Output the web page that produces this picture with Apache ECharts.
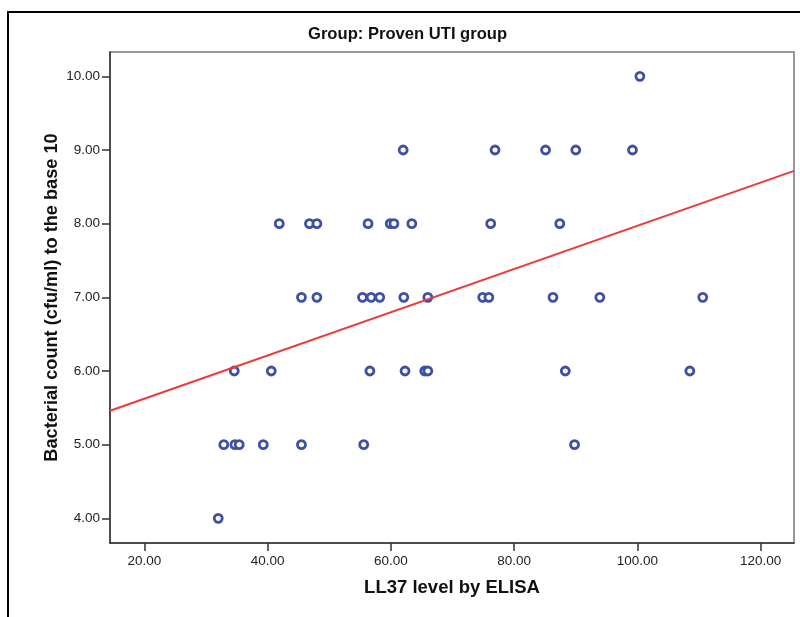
<!DOCTYPE html>
<html>
<head>
<meta charset="utf-8">
<script src="https://cdn.jsdelivr.net/npm/echarts@6/dist/echarts.min.js"></script>
<style>
html,body{margin:0;padding:0;background:#fff;}
#chart{width:800px;height:617px;}
</style>
</head>
<body>
<div id="chart"></div>
<script>
// ---- Data ----
var ll37Level = [
  100.4,
  62.0, 76.9, 85.1, 90.0, 99.2,
  41.9, 46.8, 48.0, 56.3, 59.9, 60.5, 63.4, 76.2, 87.4,
  45.5, 48.0, 55.4, 56.8, 58.2, 62.1, 66.0, 74.9, 75.9, 86.3, 93.9, 110.6,
  34.6, 40.6, 56.6, 62.3, 65.5, 66.0, 88.3, 108.5,
  32.9, 34.7, 35.4, 39.3, 45.5, 55.6, 89.8,
  32.0
];
var bacterialCount = [
  10,
  9, 9, 9, 9, 9,
  8, 8, 8, 8, 8, 8, 8, 8, 8,
  7, 7, 7, 7, 7, 7, 7, 7, 7, 7, 7, 7,
  6, 6, 6, 6, 6, 6, 6, 6,
  5, 5, 5, 5, 5, 5, 5,
  4
];
var xTickValues = [20, 40, 60, 80, 100, 120];
var yTickValues = [4, 5, 6, 7, 8, 9, 10];
var titleText = 'Group: Proven UTI group';
var xAxisTitle = 'LL37 level by ELISA';
var yAxisTitle = 'Bacterial count (cfu/ml) to the base 10';

// ---- Build ----
var points = ll37Level.map(function (x, i) { return [x, bacterialCount[i]]; });

// least-squares fit line
var n = points.length, sx = 0, sy = 0, sxx = 0, sxy = 0;
points.forEach(function (p) { sx += p[0]; sy += p[1]; sxx += p[0] * p[0]; sxy += p[0] * p[1]; });
var slope = (n * sxy - sx * sy) / (n * sxx - sx * sx);
var intercept = (sy - slope * sx) / n;

var xMin = 14.44, xMax = 125.4, yMin = 3.665, yMax = 10.33;
var fitLine = [[xMin, intercept + slope * xMin], [xMax, intercept + slope * xMax]];

var FONT = '"Liberation Sans", Arial, sans-serif';
var chart = echarts.init(document.getElementById('chart'), null, { renderer: 'canvas' });
chart.setOption({
  backgroundColor: '#ffffff',
  animation: false,
  title: {
    text: titleText,
    left: 303,
    top: 21,
    textStyle: { fontFamily: FONT, fontSize: 16.6, fontWeight: 'bold', color: '#111' }
  },
  graphic: [{
    type: 'rect',
    shape: { x: 8, y: 12, width: 900, height: 700 },
    style: { fill: 'none', stroke: '#000', lineWidth: 2 },
    silent: true
  }],
  grid: {
    left: 110, right: 6, top: 52, bottom: 74,
    show: true, borderColor: '#777', borderWidth: 1.5, backgroundColor: 'transparent'
  },
  xAxis: {
    type: 'value', min: xMin, max: xMax,
    splitLine: { show: false },
    axisLine: { onZero: false, lineStyle: { color: '#333', width: 1.5 } },
    axisTick: { show: true, length: 8, lineStyle: { color: '#333', width: 1.5 }, customValues: xTickValues },
    axisLabel: {
      margin: 11, fontFamily: FONT, fontSize: 13.5, color: '#222',
      customValues: xTickValues,
      formatter: function (v) { return v.toFixed(2); }
    },
    name: xAxisTitle, nameLocation: 'middle', nameGap: 35, nameMoveOverlap: false,
    nameTextStyle: { fontFamily: FONT, fontSize: 18.5, fontWeight: 'bold', color: '#111' }
  },
  yAxis: {
    type: 'value', min: yMin, max: yMax,
    splitLine: { show: false },
    axisLine: { onZero: false, lineStyle: { color: '#333', width: 1.5 } },
    axisTick: { show: true, length: 8, lineStyle: { color: '#333', width: 1.5 }, customValues: yTickValues },
    axisLabel: {
      margin: 10, fontFamily: FONT, fontSize: 13.5, color: '#222',
      customValues: yTickValues,
      formatter: function (v) { return v.toFixed(2); }
    },
    name: yAxisTitle, nameLocation: 'middle', nameGap: 49, nameMoveOverlap: false,
    nameTextStyle: { fontFamily: FONT, fontSize: 18.2, fontWeight: 'bold', color: '#111' }
  },
  series: [{
    type: 'scatter',
    data: points,
    symbol: 'circle',
    symbolSize: 8,
    itemStyle: { color: '#ffffff', borderColor: '#3d50a5', borderWidth: 2.8, opacity: 1 },
    z: 2
  }, {
    type: 'line',
    data: fitLine,
    showSymbol: false,
    symbol: 'none',
    lineStyle: { color: '#ee3a3a', width: 2 },
    z: 3
  }]
});
</script>
</body>
</html>
